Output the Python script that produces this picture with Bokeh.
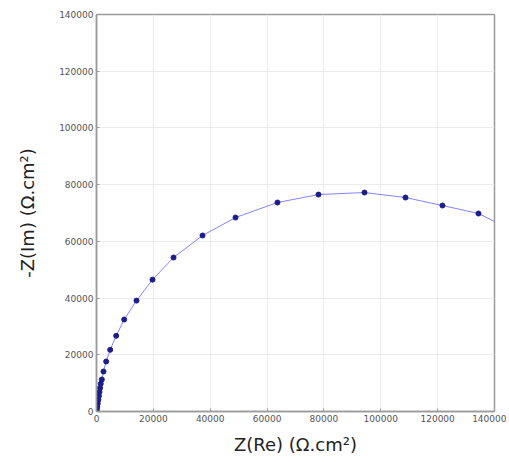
from bokeh.plotting import figure
from bokeh.embed import file_html
from bokeh.resources import INLINE
from bokeh.models import Range1d, FixedTicker, BasicTickFormatter

# Impedance data (Nyquist plot)
z_re = [120, 280, 450, 650, 850, 1050, 1250, 1500, 1870, 2460, 3400, 4810, 6930,
        9740, 14070, 19700, 27100, 37300, 48900, 63660, 78090, 94270, 108690,
        121700, 134370, 147000]
z_im = [600, 1600, 2800, 4100, 5500, 6900, 8300, 9800, 11280, 14100, 17630, 21750,
        26690, 32440, 39100, 46500, 54300, 62060, 68400, 73700, 76500, 77220,
        75460, 72640, 69820, 63500]

x_ticks = [0, 20000, 40000, 60000, 80000, 100000, 120000, 140000]
y_ticks = [0, 20000, 40000, 60000, 80000, 100000, 120000, 140000]

p = figure(output_backend="svg", toolbar_location=None,
           frame_width=398, frame_height=397,
           min_border_left=96, min_border_top=14, min_border_right=12,
           min_border_bottom=48,
           x_range=Range1d(0, 140000), y_range=Range1d(0, 140000))

p.line(z_re, z_im, line_color="#5a5aff", line_alpha=0.75, line_width=1)
p.scatter(z_re, z_im, size=5, fill_color="#1c1c8a", line_color="#1c1c8a")

for ax in (p.xaxis, p.yaxis):
    ax.formatter = BasicTickFormatter(use_scientific=False)
    ax.major_label_text_font = "DejaVu Sans"
    ax.major_label_text_font_size = "9px"
    ax.major_label_text_color = "#555555"
    ax.axis_label_text_font = "DejaVu Sans"
    ax.axis_label_text_font_size = "18px"
    ax.axis_label_text_font_style = "normal"
    ax.axis_label_text_color = "#222222"
    ax.axis_line_color = "#9a9a9a"
    ax.axis_line_width = 1.5
    ax.major_tick_line_color = "#9a9a9a"
    ax.major_tick_in = 3
    ax.major_tick_out = 0
    ax.minor_tick_line_color = None
    ax.major_label_standoff = 3

p.xaxis.ticker = FixedTicker(ticks=x_ticks)
p.yaxis.ticker = FixedTicker(ticks=y_ticks)
p.xaxis.axis_label = "Z(Re) (Ω.cm²)"
p.yaxis.axis_label = "-Z(Im) (Ω.cm²)"
p.xaxis.axis_label_standoff = 9
p.yaxis.axis_label_standoff = 18

p.xgrid.grid_line_color = "#ececec"
p.ygrid.grid_line_color = "#ececec"
p.outline_line_color = "#9a9a9a"
p.outline_line_width = 1.5
p.background_fill_color = "white"
p.border_fill_color = "white"

open("out.html", "w").write(file_html(p, INLINE))
